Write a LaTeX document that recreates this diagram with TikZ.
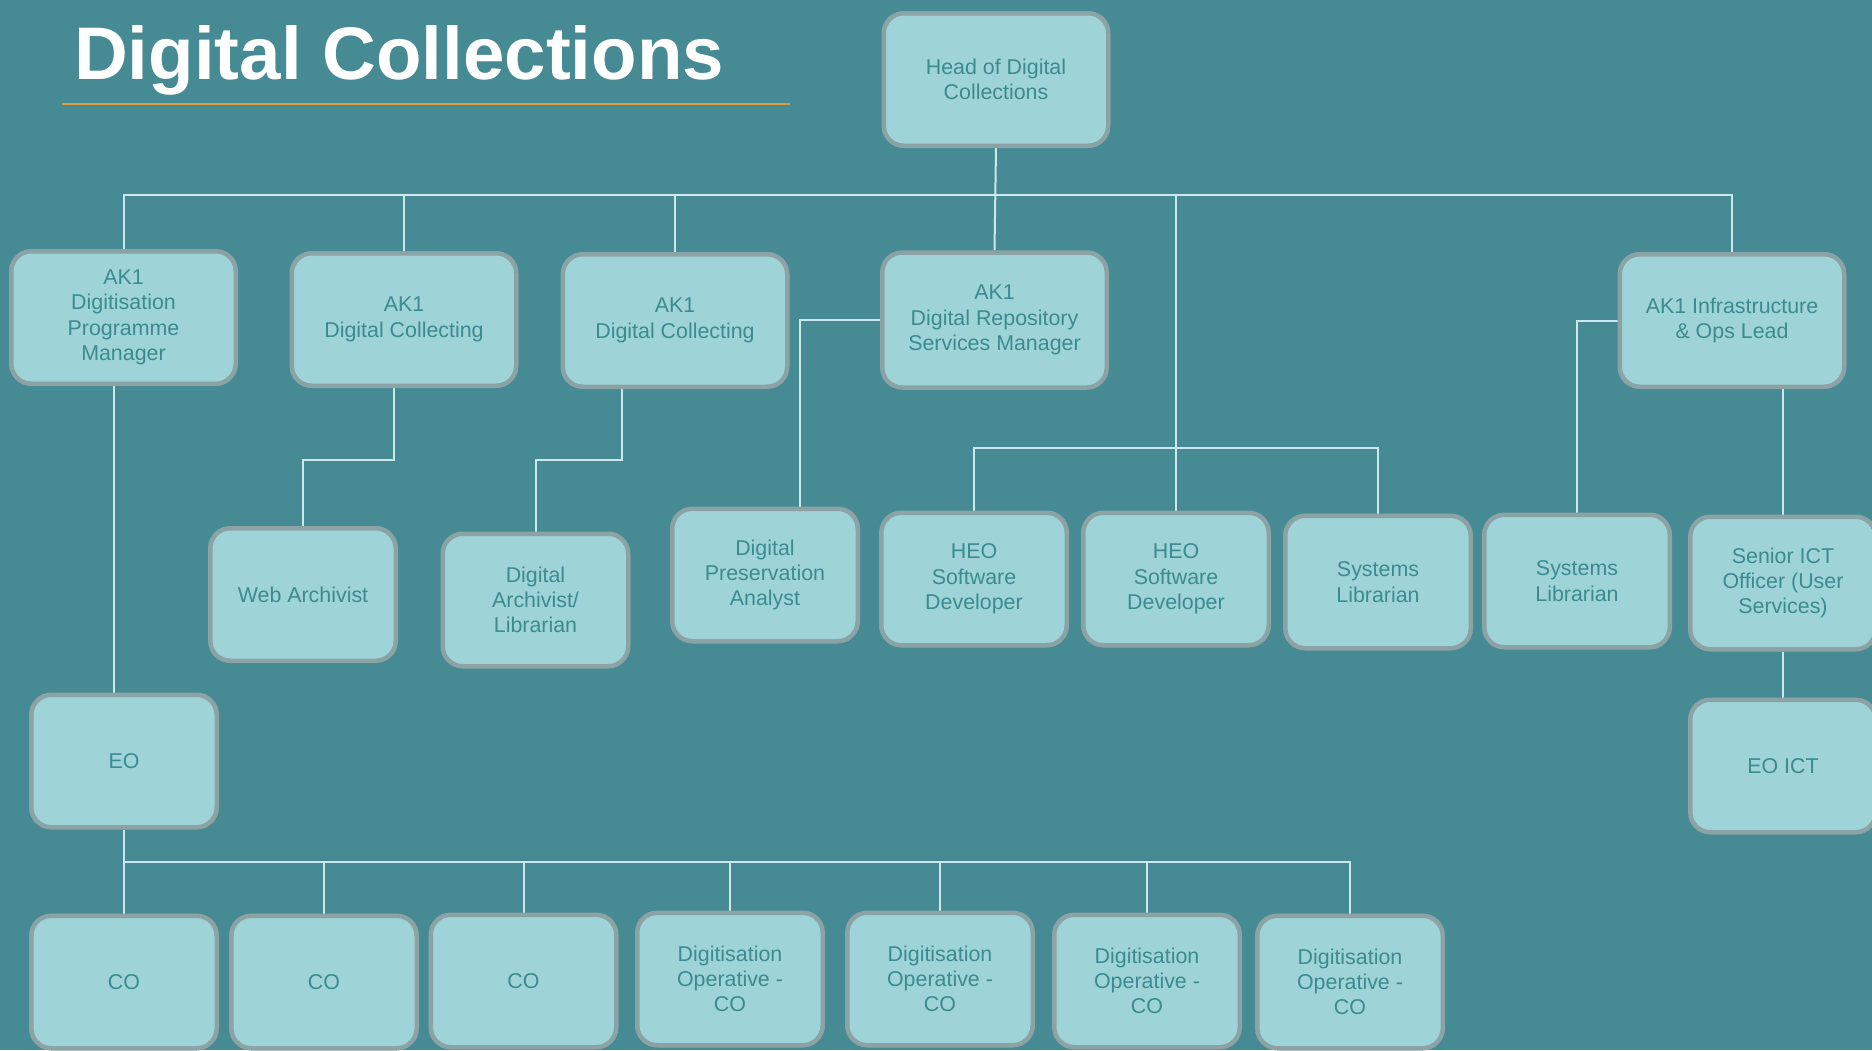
\documentclass[tikz,border=0pt]{standalone}
\usepackage{fontspec}
\setmainfont{Liberation Sans}
\pgfdeclarelayer{canvas}
\pgfdeclarelayer{links}
\pgfsetlayers{canvas,links,main}
\definecolor{bgteal}{HTML}{468A94}
\definecolor{boxfill}{HTML}{9ED3D8}
\definecolor{boxline}{HTML}{8BA3A5}
\definecolor{boxtext}{HTML}{3B8B91}
\definecolor{linkcol}{HTML}{CBE8EC}
\definecolor{rulecol}{HTML}{E39A3B}
\newcommand{\boxfont}{\fontsize{21.4}{25.3}\selectfont}
\tikzset{
  box/.style={draw=boxline, line width=4.5pt, fill=boxfill, rounded corners=20pt,
    text=boxtext, font=\boxfont, align=center, inner sep=0pt,
    minimum width=185.5pt, minimum height=132.5pt},
  wide/.style={minimum width=224.5pt},
  link/.style={draw=linkcol, line width=2pt},
}
\begin{document}
\begin{tikzpicture}[x=1pt,y=-1pt]
  % canvas
  \begin{pgfonlayer}{canvas}
    \fill[bgteal] (0,0) rectangle (1872,1050);
  \end{pgfonlayer}
  \useasboundingbox (0,0) rectangle (1872,1050);
  \clip (0,0) rectangle (1872,1050);

  % title and underline
  \node[anchor=base west, inner sep=0pt, text=white,
        font=\fontsize{74.5}{80}\selectfont\bfseries] (title) at (74,79) {Digital Collections};
  \draw[rulecol, line width=2.5pt] (62,104) -- (790,104);

  % head
  \node[box, wide] (head) at (996,79.5) {Head of Digital\\Collections};

  % second tier
  \node[box, wide] (dpm)   at (123.5,317.5) {AK1\\Digitisation\\Programme\\Manager};
  \node[box, wide] (dc1)   at (404,319.5)   {AK1\\Digital Collecting};
  \node[box, wide] (dc2)   at (675,320.5)   {AK1\\Digital Collecting};
  \node[box, wide, minimum height=135pt] (drsm) at (994.5,320) {AK1\\Digital Repository\\Services Manager};
  \node[box, wide] (infra) at (1732,320.5)  {AK1 Infrastructure\\\& Ops Lead};

  % third tier
  \node[box] (web)   at (303,594.5)  {Web Archivist};
  \node[box] (darch) at (535.5,600)  {Digital\\Archivist/\\Librarian};
  \node[box] (dpa)   at (765,575)    {Digital\\Preservation\\Analyst};
  \node[box] (heo1)  at (974,579)    {HEO\\Software\\Developer};
  \node[box] (heo2)  at (1176,579)   {HEO\\Software\\Developer};
  \node[box] (sys1)  at (1378,582)   {Systems\\Librarian};
  \node[box] (sys2)  at (1577,581)   {Systems\\Librarian};
  \node[box] (sict)  at (1783,583)   {Senior ICT\\Officer (User\\Services)};
  \node[box] (eoict) at (1783,766)   {EO ICT};
  \node[box] (eo)    at (124,761)    {EO};

  % bottom row
  \node[box] (co1)  at (124,982)   {CO};
  \node[box] (co2)  at (324,982)   {CO};
  \node[box] (co3)  at (523.5,981) {CO};
  \node[box] (dop1) at (730,979)   {Digitisation\\Operative -\\CO};
  \node[box] (dop2) at (940,979)   {Digitisation\\Operative -\\CO};
  \node[box] (dop3) at (1147,981)  {Digitisation\\Operative -\\CO};
  \node[box] (dop4) at (1350,982)  {Digitisation\\Operative -\\CO};

  % junction levels
  \coordinate (bus)  at (0,195);
  \coordinate (heob) at (0,447.7);
  \coordinate (cob)  at (0,862);
  \coordinate (dcb)  at (0,459.7);

  \begin{pgfonlayer}{links}
    % head to second tier
    \draw[link] (head.south) -- (drsm.north);
    \draw[link] (dpm.north) -- (dpm.north |- bus) -- (infra.north |- bus) -- (infra.north);
    \draw[link] (dc1.north) -- (dc1.north |- bus);
    \draw[link] (dc2.north) -- (dc2.north |- bus);
    \draw[link] (heo2.north) -- (heo2.north |- bus);
    \draw[link] (heo1.north) -- (heo1.north |- heob) -- (sys1.north |- heob) -- (sys1.north);

    % digital collecting to archivists
    \draw[link] ([xshift=-10pt]dc1.south) -- ([xshift=-10pt]dc1.south |- dcb) -| (web.north);
    \draw[link] ([xshift=-53pt]dc2.south) -- ([xshift=-53pt]dc2.south |- dcb) -| (darch.north);

    % repository manager to preservation analyst
    \draw[link] (drsm.west) -| ([xshift=35pt]dpa.north);

    % infrastructure lead
    \draw[link] (infra.west) -| (sys2.north);
    \draw[link] ([xshift=51pt]infra.south) -- (sict.north);
    \draw[link] (sict.south) -- (eoict.north);

    % digitisation programme manager to EO and its team
    \draw[link] ([xshift=-10pt]dpm.south) -- ([xshift=-10.5pt]eo.north);
    \draw[link] (eo.south) -- (co1.north);
    \draw[link] (co1.north |- cob) -- (dop4.north |- cob) -- (dop4.north);
    \foreach \n in {co2,co3,dop1,dop2,dop3}
      \draw[link] (\n.north) -- (\n.north |- cob);
  \end{pgfonlayer}
\end{tikzpicture}
\end{document}
